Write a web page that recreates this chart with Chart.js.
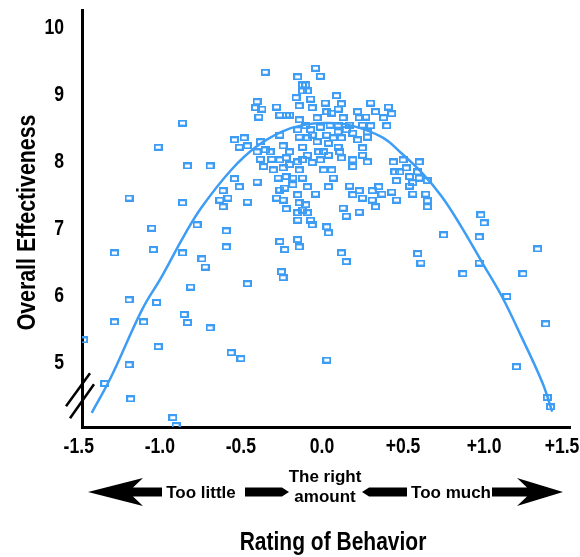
<!DOCTYPE html>
<html>
<head>
<meta charset="utf-8">
<script src="https://cdn.jsdelivr.net/npm/chart.js@4.4.1/dist/chart.umd.min.js"></script>
<style>
html, body { margin: 0; padding: 0; background: #fff; }
#wrap { width: 580px; height: 557px; }
</style>
</head>
<body>
<div id="wrap"><canvas id="graficoComportamento" width="580" height="557"></canvas></div>
<script>
// valores
const behaviorRating = [
  -1.47, -1.34, -1.28, -1.28, -1.19, -1.19, -1.19, -1.18, -1.05, -1.04,
  -1.02, -1.10, -1.01, -1.01, -0.92, -0.90, -0.86, -0.86, -0.83, -0.86,
  -0.85, -0.83, -0.81, -0.77, -0.74, -0.72, -0.69, -0.69, -0.61, -0.63,
  -0.58, -0.61, -0.46, -0.59, -0.59, -0.51, -0.54, -0.40, -0.56, -0.50,
  -0.46, -0.54, -0.48, -0.51, -0.46, -0.38, -0.35, -0.40, -0.41, -0.37,
  -0.39, -0.28, -0.26, -0.22, -0.20, -0.40, -0.32, -0.24, -0.26, -0.20,
  -0.12, -0.02, -0.04, -0.01, -0.15, -0.12, -0.10, -0.12, -0.09, -0.07,
  -0.16, -0.14, -0.06, 0.02, 0.03, -0.03, -0.14, -0.10, -0.15, -0.07,
  -0.01, -0.06, -0.14, -0.09, -0.03, 0.03, 0.04, 0.09, 0.12, 0.10,
  0.30, 0.41, 0.43, 0.33, 0.22, 0.27, 0.23, 0.38, 0.40, 0.30,
  0.25, 0.13, 0.06, 0.05, 0.10, 0.17, 0.15, 0.19, 0.28, 0.10,
  0.07, 0.12, 0.22, 0.28, 0.10, 0.25, 0.01, 0.11, 0.25, -0.35,
  -0.38, -0.36, -0.31, -0.30, -0.26, -0.22, -0.24, -0.20, -0.15, -0.12,
  -0.09, -0.06, -0.01, 0.01, -0.14, -0.22, -0.18, -0.12, -0.27, -0.26,
  -0.23, -0.28, -0.24, -0.18, -0.09, -0.04, 0.04, -0.15, -0.14, -0.10,
  -0.12, -0.09, -0.07, -0.15, -0.15, -0.22, -0.06, 0.03, 0.04, -0.26,
  -0.15, 0.04, 0.12, 0.19, 0.28, 0.19, 0.06, 0.07, 0.44, 0.50,
  0.60, 0.45, 0.48, 0.52, 0.54, 0.59, 0.60, 0.56, 0.65, 0.46,
  0.54, 0.17, 0.23, 0.19, 0.25, 0.31, 0.35, 0.37, 0.31, 0.33,
  0.43, 0.46, 0.56, 0.64, 0.65, 0.65, 0.13, 0.15, 0.23, 0.75,
  0.98, 1.00, 0.97, 1.33, -0.23, -0.14, 0.12, 0.15, 0.59, 0.61,
  0.97, 0.87, 1.14, 1.24, 1.38, 1.20, 1.39, 1.41, 0.03, -0.25,
  -0.24
];
const overallEffectiveness = [
  5.34, 4.69, 6.64, 5.61, 7.46, 5.94, 4.97, 4.46, 7.01, 6.69,
  5.90, 5.61, 5.24, 8.22, 4.18, 4.06, 8.58, 7.39, 7.94, 6.64,
  5.72, 5.60, 6.13, 7.06, 6.55, 6.43, 5.52, 7.94, 7.57, 7.43,
  7.46, 7.33, 7.40, 6.97, 6.73, 7.63, 7.75, 7.70, 5.15, 5.06,
  6.18, 8.33, 8.36, 8.22, 8.24, 8.30, 9.34, 8.90, 8.81, 8.79,
  8.67, 8.82, 8.70, 8.70, 8.70, 8.15, 8.15, 8.24, 8.40, 8.15,
  8.22, 8.15, 9.40, 9.28, 9.27, 9.15, 9.15, 9.06, 9.06, 8.94,
  8.96, 8.84, 8.81, 8.88, 8.75, 8.66, 8.63, 8.54, 8.48, 8.48,
  8.52, 8.40, 8.37, 8.36, 8.30, 8.40, 8.28, 8.99, 8.87, 8.79,
  8.88, 8.82, 8.72, 8.75, 8.75, 8.67, 8.66, 8.66, 8.54, 8.54,
  8.55, 8.66, 8.73, 8.55, 8.55, 8.55, 8.48, 8.43, 8.45, 8.45,
  8.36, 8.36, 8.33, 8.37, 8.22, 8.21, 8.15, 8.15, 8.10, 8.18,
  8.04, 7.93, 8.04, 7.88, 8.03, 8.06, 7.91, 7.96, 8.00, 8.03,
  8.10, 7.99, 8.03, 7.88, 7.88, 7.78, 7.76, 7.76, 7.76, 7.58,
  7.61, 7.46, 7.43, 7.66, 7.63, 7.52, 7.63, 7.51, 7.39, 7.36,
  7.28, 7.24, 7.13, 7.24, 7.13, 7.30, 7.06, 7.03, 6.94, 6.81,
  6.84, 8.10, 8.06, 8.03, 8.00, 7.93, 7.88, 7.76, 8.00, 8.03,
  8.00, 7.85, 7.85, 7.91, 7.78, 7.85, 7.76, 7.69, 7.72, 7.72,
  7.64, 7.64, 7.57, 7.51, 7.46, 7.57, 7.63, 7.52, 7.43, 7.33,
  7.55, 7.43, 7.52, 7.52, 7.42, 7.33, 7.31, 7.19, 7.25, 6.91,
  7.21, 7.09, 6.88, 6.70, 6.69, 6.73, 6.64, 6.51, 6.63, 6.49,
  6.49, 6.33, 5.99, 6.33, 5.58, 4.94, 4.48, 4.34, 5.04, 6.36,
  6.27
];

// curva ajustada (lida ponto a ponto da figura)
const fitRating = [-1.42, -1.30, -1.11, -0.99, -0.85, -0.74, -0.56, -0.41, -0.25, -0.12, 0.02,
  0.17, 0.37, 0.49, 0.62, 0.74, 0.86, 0.99, 1.11, 1.23, 1.36, 1.42];
const fitEffectiveness = [4.25, 4.79, 5.79, 6.28, 6.90, 7.33, 7.88, 8.22, 8.45, 8.55, 8.58,
  8.55, 8.37, 8.13, 7.83, 7.48, 7.03, 6.49, 5.99, 5.39, 4.70, 4.27];

// eixos
const xTickValues = [-1.5, -1.0, -0.5, 0, 0.5, 1.0, 1.5];
const xTickLabels = ['-1.5', '-1.0', '-0.5', '0.0', '+0.5', '+1.0', '+1.5'];
const yTickValues = [5, 6, 7, 8, 9, 10];
const yTickLabels = ['5', '6', '7', '8', '9', '10'];
const scaleWords = ['Too little', 'The right', 'amount', 'Too much'];
const xTitle = 'Rating of Behavior';
const yTitle = 'Overall Effectiveness';

const azul = '#3d9df5';
const fonte = '"Liberation Sans", Arial, sans-serif';

// marcador: quadradinho vazado
const marcador = document.createElement('canvas');
marcador.width = 9;
marcador.height = 7;
(function() {
    const c = marcador.getContext('2d');
    c.strokeStyle = azul;
    c.lineWidth = 2;
    c.strokeRect(1, 1, 7, 5);
})();

// texto "estreito" (a fonte original é condensada)
function textoEstreito(ctx, txt, x, y, sx, rot) {
    ctx.save();
    ctx.translate(x, y);
    if (rot) ctx.rotate(rot);
    ctx.scale(sx, 1);
    ctx.fillText(txt, 0, 0);
    ctx.restore();
}

// rótulos dos eixos, setas "Too little / The right amount / Too much" e quebra do eixo
const extrasPlugin = {
    id: 'extras',
    afterDraw(chart) {
        const ctx = chart.ctx;
        const a = chart.chartArea;
        const sx = chart.scales.x;
        const sy = chart.scales.y;
        const L = a.left;
        ctx.save();
        ctx.fillStyle = '#000';

        // rótulos dos ticks
        ctx.font = 'bold 22px ' + fonte;
        ctx.textBaseline = 'middle';
        ctx.textAlign = 'center';
        xTickValues.forEach((v, i) => {
            // o último rótulo fica um pouco recolhido para não sair da tela
            const px = Math.min(sx.getPixelForValue(v), chart.width - 18);
            textoEstreito(ctx, xTickLabels[i], px, a.bottom + 20, 0.8);
        });
        ctx.textAlign = 'right';
        yTickValues.forEach((v, i) => {
            textoEstreito(ctx, yTickLabels[i], L - 18, sy.getPixelForValue(v), 0.8);
        });

        // títulos
        ctx.textAlign = 'center';
        ctx.font = 'bold 25px ' + fonte;
        textoEstreito(ctx, xTitle, L + 251, chart.height - 14, 0.84);
        ctx.font = 'bold 26px ' + fonte;
        textoEstreito(ctx, yTitle, 28, (a.top + a.bottom) / 2 + 4, 0.82, -Math.PI / 2);

        // quebra do eixo Y (//)
        const yb = sy.getPixelForValue(4.5);
        ctx.strokeStyle = '#000';
        ctx.lineWidth = 2.5;
        ctx.beginPath();
        ctx.moveTo(L - 16, yb + 10); ctx.lineTo(L + 8, yb - 23);
        ctx.moveTo(L - 12, yb + 22); ctx.lineTo(L + 12, yb - 12);
        ctx.stroke();

        // linha das setas
        const cy = a.bottom + 65;
        const h = 4.5;

        // seta esquerda
        ctx.beginPath();
        ctx.moveTo(L + 6, cy);
        ctx.lineTo(L + 61, cy - 14);
        ctx.lineTo(L + 51, cy - h);
        ctx.lineTo(L + 80, cy - h);
        ctx.lineTo(L + 80, cy + h);
        ctx.lineTo(L + 51, cy + h);
        ctx.lineTo(L + 61, cy + 14);
        ctx.closePath();
        ctx.fill();

        // barra 1 (ponta à direita)
        ctx.beginPath();
        ctx.moveTo(L + 163, cy - h);
        ctx.lineTo(L + 200, cy - h);
        ctx.lineTo(L + 207, cy);
        ctx.lineTo(L + 200, cy + h);
        ctx.lineTo(L + 163, cy + h);
        ctx.closePath();
        ctx.fill();

        // barra 2 (ponta à esquerda)
        ctx.beginPath();
        ctx.moveTo(L + 280, cy);
        ctx.lineTo(L + 287, cy - h);
        ctx.lineTo(L + 325, cy - h);
        ctx.lineTo(L + 325, cy + h);
        ctx.lineTo(L + 287, cy + h);
        ctx.closePath();
        ctx.fill();

        // seta direita
        ctx.beginPath();
        ctx.moveTo(L + 481, cy);
        ctx.lineTo(L + 435, cy - 14);
        ctx.lineTo(L + 445, cy - h);
        ctx.lineTo(L + 410, cy - h);
        ctx.lineTo(L + 410, cy + h);
        ctx.lineTo(L + 445, cy + h);
        ctx.lineTo(L + 435, cy + 14);
        ctx.closePath();
        ctx.fill();

        ctx.font = 'bold 17px ' + fonte;
        ctx.textAlign = 'center';
        ctx.textBaseline = 'middle';
        textoEstreito(ctx, scaleWords[0], L + 119, cy + 1, 1);
        textoEstreito(ctx, scaleWords[1], L + 243, cy - 15, 1);
        textoEstreito(ctx, scaleWords[2], L + 243, cy + 5, 1);
        textoEstreito(ctx, scaleWords[3], L + 369, cy + 1, 1);
        ctx.restore();
    }
};

const ctx = document.getElementById('graficoComportamento').getContext('2d');
new Chart(ctx, {
    type: 'scatter',
    data: {
        datasets: [
            {
                label: 'Ajuste',
                data: fitRating.map((x, i) => ({ x: x, y: fitEffectiveness[i] })),
                showLine: true,
                borderColor: azul,
                borderWidth: 2.5,
                pointRadius: 0,
                tension: 0.4,
                order: 0
            },
            {
                label: 'Gerentes',
                data: behaviorRating.map((x, i) => ({ x: x, y: overallEffectiveness[i] })),
                pointStyle: marcador,
                pointRadius: 4,
                order: 1
            }
        ]
    },
    options: {
        responsive: false,
        animation: false,
        layout: { padding: { top: 10, right: 10, left: 0, bottom: 0 } },
        plugins: {
            legend: { display: false },
            tooltip: { enabled: false }
        },
        scales: {
            x: {
                type: 'linear',
                min: -1.48,
                max: 1.53,
                afterBuildTicks: s => { s.ticks = xTickValues.map(v => ({ value: v })); },
                afterFit: s => { s.height = 130; s.paddingLeft = 0; s.paddingRight = 0; },
                grid: { display: false, drawTicks: false },
                border: { display: true, color: '#000', width: 3 },
                ticks: { display: false }
            },
            y: {
                type: 'linear',
                min: 4.04,
                max: 10.27,
                afterBuildTicks: s => { s.ticks = yTickValues.map(v => ({ value: v })); },
                afterFit: s => { s.width = 82; s.paddingTop = 0; s.paddingBottom = 0; },
                grid: { display: false, drawTicks: false },
                border: { display: true, color: '#000', width: 3 },
                ticks: { display: false }
            }
        }
    },
    plugins: [extrasPlugin]
});
</script>
</body>
</html>
